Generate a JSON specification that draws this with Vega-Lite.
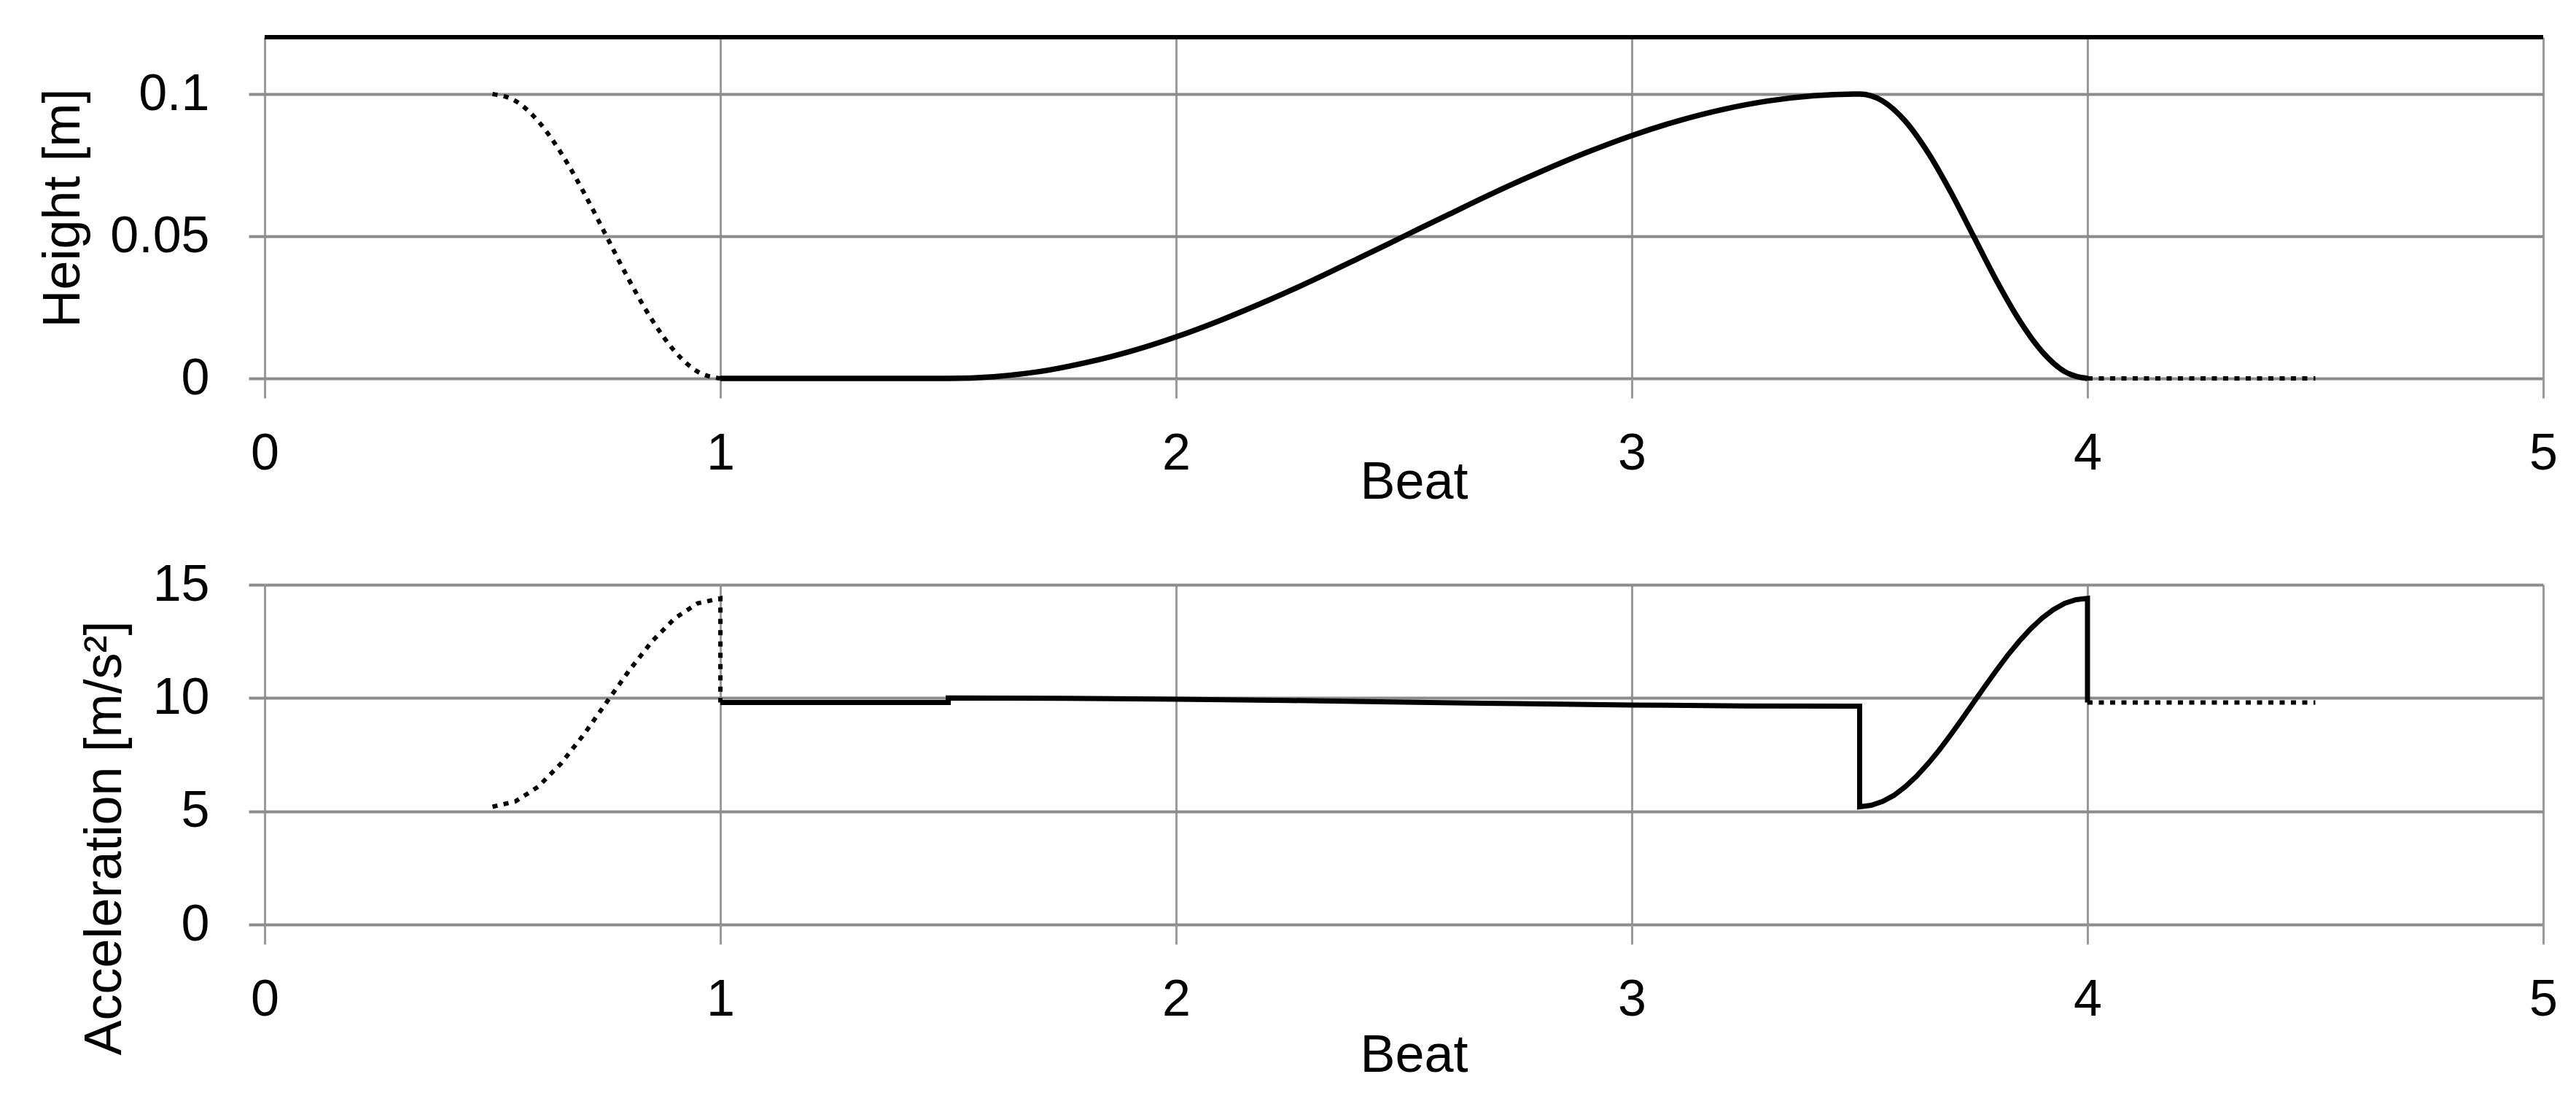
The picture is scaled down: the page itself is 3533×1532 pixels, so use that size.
{
  "$schema": "https://vega.github.io/schema/vega-lite/v6.json",
  "background": "white",
  "padding": {"left": 50, "top": 48, "right": 0, "bottom": 0},
  "autosize": "pad",
  "datasets": {
    "height": [
      {"part": "d1", "style": "dotted", "n": 0, "beat": 0.5, "value": 0.1},
      {"part": "d1", "style": "dotted", "n": 1, "beat": 0.55, "value": 0.0976},
      {"part": "d1", "style": "dotted", "n": 2, "beat": 0.6, "value": 0.0905},
      {"part": "d1", "style": "dotted", "n": 3, "beat": 0.65, "value": 0.0794},
      {"part": "d1", "style": "dotted", "n": 4, "beat": 0.7, "value": 0.0655},
      {"part": "d1", "style": "dotted", "n": 5, "beat": 0.75, "value": 0.05},
      {"part": "d1", "style": "dotted", "n": 6, "beat": 0.8, "value": 0.0345},
      {"part": "d1", "style": "dotted", "n": 7, "beat": 0.85, "value": 0.0206},
      {"part": "d1", "style": "dotted", "n": 8, "beat": 0.9, "value": 0.0095},
      {"part": "d1", "style": "dotted", "n": 9, "beat": 0.95, "value": 0.0024},
      {"part": "d1", "style": "dotted", "n": 10, "beat": 1.0, "value": 0},
      {"part": "s", "style": "solid", "n": 11, "beat": 1.0, "value": 0},
      {"part": "s", "style": "solid", "n": 12, "beat": 1.5, "value": 0},
      {"part": "s", "style": "solid", "n": 13, "beat": 1.6, "value": 0.0006},
      {"part": "s", "style": "solid", "n": 14, "beat": 1.7, "value": 0.0024},
      {"part": "s", "style": "solid", "n": 15, "beat": 1.8, "value": 0.0055},
      {"part": "s", "style": "solid", "n": 16, "beat": 1.9, "value": 0.0095},
      {"part": "s", "style": "solid", "n": 17, "beat": 2.0, "value": 0.0146},
      {"part": "s", "style": "solid", "n": 18, "beat": 2.1, "value": 0.0206},
      {"part": "s", "style": "solid", "n": 19, "beat": 2.2, "value": 0.0273},
      {"part": "s", "style": "solid", "n": 20, "beat": 2.3, "value": 0.0345},
      {"part": "s", "style": "solid", "n": 21, "beat": 2.4, "value": 0.0422},
      {"part": "s", "style": "solid", "n": 22, "beat": 2.5, "value": 0.05},
      {"part": "s", "style": "solid", "n": 23, "beat": 2.6, "value": 0.0578},
      {"part": "s", "style": "solid", "n": 24, "beat": 2.7, "value": 0.0655},
      {"part": "s", "style": "solid", "n": 25, "beat": 2.8, "value": 0.0727},
      {"part": "s", "style": "solid", "n": 26, "beat": 2.9, "value": 0.0794},
      {"part": "s", "style": "solid", "n": 27, "beat": 3.0, "value": 0.0854},
      {"part": "s", "style": "solid", "n": 28, "beat": 3.1, "value": 0.0905},
      {"part": "s", "style": "solid", "n": 29, "beat": 3.2, "value": 0.0946},
      {"part": "s", "style": "solid", "n": 30, "beat": 3.3, "value": 0.0976},
      {"part": "s", "style": "solid", "n": 31, "beat": 3.4, "value": 0.0994},
      {"part": "s", "style": "solid", "n": 32, "beat": 3.5, "value": 0.1},
      {"part": "s", "style": "solid", "n": 33, "beat": 3.55, "value": 0.0976},
      {"part": "s", "style": "solid", "n": 34, "beat": 3.6, "value": 0.0905},
      {"part": "s", "style": "solid", "n": 35, "beat": 3.65, "value": 0.0794},
      {"part": "s", "style": "solid", "n": 36, "beat": 3.7, "value": 0.0655},
      {"part": "s", "style": "solid", "n": 37, "beat": 3.75, "value": 0.05},
      {"part": "s", "style": "solid", "n": 38, "beat": 3.8, "value": 0.0345},
      {"part": "s", "style": "solid", "n": 39, "beat": 3.85, "value": 0.0206},
      {"part": "s", "style": "solid", "n": 40, "beat": 3.9, "value": 0.0095},
      {"part": "s", "style": "solid", "n": 41, "beat": 3.95, "value": 0.0024},
      {"part": "s", "style": "solid", "n": 42, "beat": 4.0, "value": 0},
      {"part": "d2", "style": "dotted", "n": 43, "beat": 4.0, "value": 0},
      {"part": "d2", "style": "dotted", "n": 44, "beat": 4.5, "value": 0}
    ],
    "accel": [
      {"part": "d1", "style": "dotted", "n": 0, "beat": 0.5, "value": 5.2},
      {"part": "d1", "style": "dotted", "n": 1, "beat": 0.55, "value": 5.43},
      {"part": "d1", "style": "dotted", "n": 2, "beat": 0.6, "value": 6.08},
      {"part": "d1", "style": "dotted", "n": 3, "beat": 0.65, "value": 7.1},
      {"part": "d1", "style": "dotted", "n": 4, "beat": 0.7, "value": 8.38},
      {"part": "d1", "style": "dotted", "n": 5, "beat": 0.75, "value": 9.8},
      {"part": "d1", "style": "dotted", "n": 6, "beat": 0.8, "value": 11.22},
      {"part": "d1", "style": "dotted", "n": 7, "beat": 0.85, "value": 12.5},
      {"part": "d1", "style": "dotted", "n": 8, "beat": 0.9, "value": 13.52},
      {"part": "d1", "style": "dotted", "n": 9, "beat": 0.95, "value": 14.18},
      {"part": "d1", "style": "dotted", "n": 10, "beat": 1.0, "value": 14.4},
      {"part": "d1", "style": "dotted", "n": 11, "beat": 1.0, "value": 9.8},
      {"part": "s", "style": "solid", "n": 12, "beat": 1.0, "value": 9.8},
      {"part": "s", "style": "solid", "n": 13, "beat": 1.5, "value": 9.8},
      {"part": "s", "style": "solid", "n": 14, "beat": 1.5, "value": 10.0},
      {"part": "s", "style": "solid", "n": 15, "beat": 1.75, "value": 9.99},
      {"part": "s", "style": "solid", "n": 16, "beat": 2.0, "value": 9.95},
      {"part": "s", "style": "solid", "n": 17, "beat": 2.25, "value": 9.89},
      {"part": "s", "style": "solid", "n": 18, "beat": 2.5, "value": 9.82},
      {"part": "s", "style": "solid", "n": 19, "beat": 2.75, "value": 9.75},
      {"part": "s", "style": "solid", "n": 20, "beat": 3.0, "value": 9.69},
      {"part": "s", "style": "solid", "n": 21, "beat": 3.25, "value": 9.65},
      {"part": "s", "style": "solid", "n": 22, "beat": 3.5, "value": 9.64},
      {"part": "s", "style": "solid", "n": 23, "beat": 3.5, "value": 5.2},
      {"part": "s", "style": "solid", "n": 24, "beat": 3.525, "value": 5.26},
      {"part": "s", "style": "solid", "n": 25, "beat": 3.55, "value": 5.43},
      {"part": "s", "style": "solid", "n": 26, "beat": 3.575, "value": 5.7},
      {"part": "s", "style": "solid", "n": 27, "beat": 3.6, "value": 6.08},
      {"part": "s", "style": "solid", "n": 28, "beat": 3.625, "value": 6.55},
      {"part": "s", "style": "solid", "n": 29, "beat": 3.65, "value": 7.1},
      {"part": "s", "style": "solid", "n": 30, "beat": 3.675, "value": 7.71},
      {"part": "s", "style": "solid", "n": 31, "beat": 3.7, "value": 8.38},
      {"part": "s", "style": "solid", "n": 32, "beat": 3.725, "value": 9.08},
      {"part": "s", "style": "solid", "n": 33, "beat": 3.75, "value": 9.8},
      {"part": "s", "style": "solid", "n": 34, "beat": 3.775, "value": 10.52},
      {"part": "s", "style": "solid", "n": 35, "beat": 3.8, "value": 11.22},
      {"part": "s", "style": "solid", "n": 36, "beat": 3.825, "value": 11.89},
      {"part": "s", "style": "solid", "n": 37, "beat": 3.85, "value": 12.5},
      {"part": "s", "style": "solid", "n": 38, "beat": 3.875, "value": 13.05},
      {"part": "s", "style": "solid", "n": 39, "beat": 3.9, "value": 13.52},
      {"part": "s", "style": "solid", "n": 40, "beat": 3.925, "value": 13.9},
      {"part": "s", "style": "solid", "n": 41, "beat": 3.95, "value": 14.18},
      {"part": "s", "style": "solid", "n": 42, "beat": 3.975, "value": 14.34},
      {"part": "s", "style": "solid", "n": 43, "beat": 4.0, "value": 14.4},
      {"part": "s", "style": "solid", "n": 44, "beat": 4.0, "value": 9.8},
      {"part": "d2", "style": "dotted", "n": 45, "beat": 4.0, "value": 9.8},
      {"part": "d2", "style": "dotted", "n": 46, "beat": 4.5, "value": 9.8}
    ]
  },
  "spacing": 283,
  "bounds": "flush",
  "vconcat": [
    {
      "width": 3125,
      "height": 468,
      "data": {"name": "height"},
      "layer": [
        {
          "transform": [{"filter": "datum.style === 'solid'"}],
          "mark": {"type": "line", "color": "#000", "strokeWidth": 7.5, "interpolate": "monotone"},
          "encoding": {
            "x": {
              "field": "beat", "type": "quantitative", "title": "Beat",
              "scale": {"domain": [0, 5], "nice": false},
              "axis": {
                "values": [0, 0.5, 1, 1.5, 2, 2.5, 3, 3.5, 4, 4.5, 5],
                "format": "d",
                "labelExpr": "datum.value % 1 === 0 ? datum.label : ''",
                "gridColor": "#9a9a9a", "gridWidth": 3,
                "tickColor": "#9a9a9a", "tickWidth": 3, "tickSize": 27,
                "tickOpacity": {"condition": {"test": "datum.value % 1 === 0", "value": 1}, "value": 0},
                "labelPadding": 42,
                "titleX": 1576, "titleY": 164, "titleBaseline": "alphabetic", "titleAlign": "center"
              }
            },
            "y": {
              "field": "value", "type": "quantitative", "title": "Height [m]",
              "scale": {"domain": [0, 0.12], "nice": false},
              "axis": {
                "values": [0, 0.05, 0.1],
                "format": ".2~f",
                "gridColor": "#8c8c8c", "gridWidth": 4,
                "tickColor": "#8c8c8c", "tickWidth": 4, "tickSize": 22,
                "labelPadding": 54,
                "titleX": -255, "titleY": 234, "titleBaseline": "alphabetic", "titleAlign": "center"
              }
            },
            "detail": {"field": "part"},
            "order": {"field": "n"}
          }
        },
        {
          "transform": [{"filter": "datum.style === 'dotted'"}],
          "mark": {"type": "line", "color": "#000", "strokeWidth": 6, "strokeDash": [7, 8.5], "interpolate": "monotone"},
          "encoding": {
            "x": {"field": "beat", "type": "quantitative", "title": "Beat"},
            "y": {"field": "value", "type": "quantitative", "title": "Height [m]"},
            "detail": {"field": "part"},
            "order": {"field": "n"}
          }
        },
        {
          "data": {"values": [{}]},
          "mark": {"type": "rule", "color": "#000", "strokeWidth": 6},
          "encoding": {
            "y": {"datum": 0.12, "type": "quantitative", "title": "Height [m]"}
          }
        }
      ]
    },
    {
      "width": 3125,
      "height": 466,
      "data": {"name": "accel"},
      "layer": [
        {
          "transform": [{"filter": "datum.style === 'solid'"}],
          "mark": {"type": "line", "color": "#000", "strokeWidth": 7},
          "encoding": {
            "x": {
              "field": "beat", "type": "quantitative", "title": "Beat",
              "scale": {"domain": [0, 5], "nice": false},
              "axis": {
                "values": [0, 0.5, 1, 1.5, 2, 2.5, 3, 3.5, 4, 4.5, 5],
                "format": "d",
                "labelExpr": "datum.value % 1 === 0 ? datum.label : ''",
                "gridColor": "#9a9a9a", "gridWidth": 3,
                "tickColor": "#9a9a9a", "tickWidth": 3, "tickSize": 27,
                "tickOpacity": {"condition": {"test": "datum.value % 1 === 0", "value": 1}, "value": 0},
                "labelPadding": 42,
                "titleX": 1576, "titleY": 201, "titleBaseline": "alphabetic", "titleAlign": "center"
              }
            },
            "y": {
              "field": "value", "type": "quantitative", "title": "Acceleration [m/s²]",
              "scale": {"domain": [0, 15], "nice": false},
              "axis": {
                "values": [0, 5, 10, 15],
                "format": "d",
                "gridColor": "#8c8c8c", "gridWidth": 4,
                "tickColor": "#8c8c8c", "tickWidth": 4, "tickSize": 22,
                "labelPadding": 54,
                "titleX": -198, "titleY": 347, "titleBaseline": "alphabetic", "titleAlign": "center"
              }
            },
            "detail": {"field": "part"},
            "order": {"field": "n"}
          }
        },
        {
          "transform": [{"filter": "datum.style === 'dotted'"}],
          "mark": {"type": "line", "color": "#000", "strokeWidth": 6, "strokeDash": [7, 8.5]},
          "encoding": {
            "x": {"field": "beat", "type": "quantitative", "title": "Beat"},
            "y": {"field": "value", "type": "quantitative", "title": "Acceleration [m/s²]"},
            "detail": {"field": "part"},
            "order": {"field": "n"}
          }
        }
      ]
    }
  ],
  "config": {
    "view": {"stroke": null},
    "font": "Liberation Sans",
    "axis": {
      "domain": false,
      "labelFont": "Liberation Sans",
      "labelFontSize": 70,
      "labelColor": "#000",
      "labelFlush": false,
      "labelOverlap": false,
      "labelBound": false,
      "titleFont": "Liberation Sans",
      "titleFontSize": 72,
      "titleFontWeight": "normal",
      "titleColor": "#000"
    }
  }
}
